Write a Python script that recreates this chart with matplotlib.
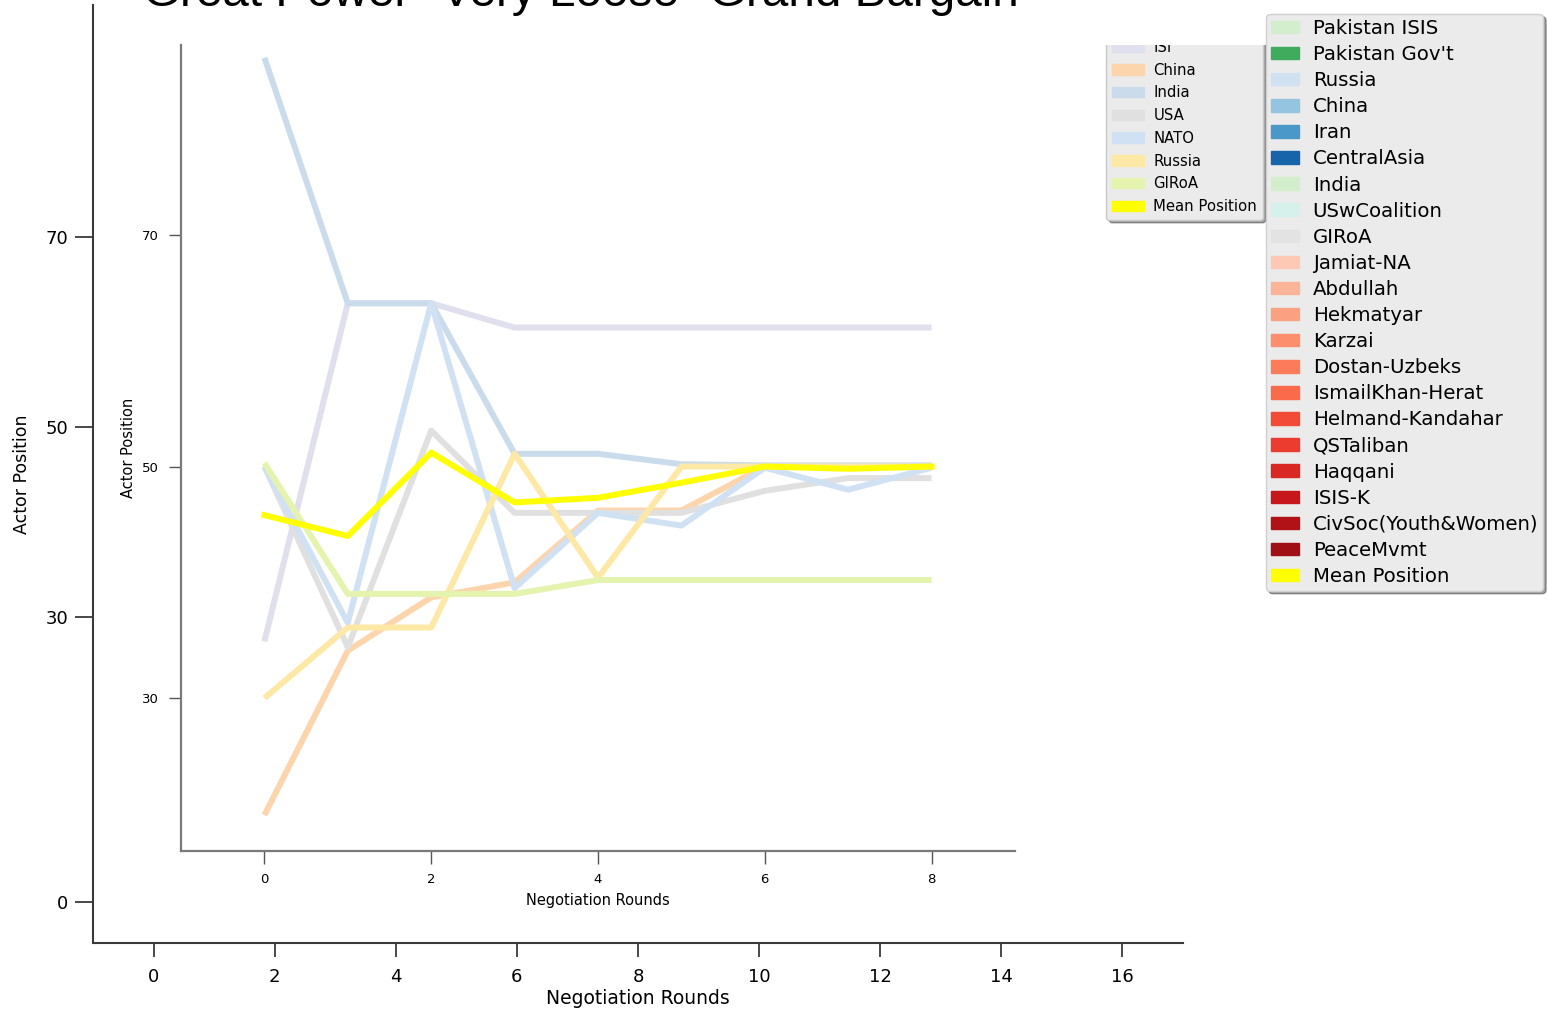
import matplotlib.pyplot as plt
from matplotlib.patches import Patch
from matplotlib.transforms import Bbox, TransformedBbox

# negotiation model output: actor positions per round
rounds = [0, 1, 2, 3, 4, 5, 6, 7, 8]
isi = [34.9, 64.1, 64.1, 62.0, 62.0, 62.0, 62.0, 62.0, 62.0]
china = [19.9, 34.1, 38.7, 40.0, 46.2, 46.2, 50.0, 50.0, 50.0]
india = [85.3, 64.1, 64.1, 51.1, 51.1, 50.2, 50.1, 50.1, 50.1]
usa = [50.0, 34.4, 53.1, 46.0, 46.0, 46.0, 47.9, 49.0, 49.0]
nato = [50.0, 36.5, 64.1, 39.5, 46.0, 44.9, 49.9, 48.0, 49.9]
russia = [30.0, 36.1, 36.1, 51.1, 40.4, 50.0, 50.0, 50.0, 50.0]
giroa = [50.3, 39.0, 39.0, 39.0, 40.2, 40.2, 40.2, 40.2, 40.2]
mean_pos = [45.8, 44.0, 51.2, 46.9, 47.3, 48.6, 50.0, 49.8, 50.0]

series_names = ["ISI", "China", "India", "USA", "NATO", "Russia", "GIRoA"]
series_vals = [isi, china, india, usa, nato, russia, giroa]
series_colors = ["#e0dfee", "#fdd5ad", "#cadcec", "#e0e0e0", "#cfe1f2", "#fde8a5", "#e4f4ae"]

# full actor list for the side legend
actor_names = ["Pakistan ISIS", "Pakistan Gov't", "Russia", "China", "Iran", "CentralAsia",
               "India", "USwCoalition", "GIRoA", "Jamiat-NA", "Abdullah", "Hekmatyar",
               "Karzai", "Dostan-Uzbeks", "IsmailKhan-Herat", "Helmand-Kandahar",
               "QSTaliban", "Haqqani", "ISIS-K", "CivSoc(Youth&Women)", "PeaceMvmt",
               "Mean Position"]
actor_colors = ["#d3eecd", "#41ab5d", "#d0e1f2", "#94c4df", "#4a98c9", "#1764ab",
                "#d3eecd", "#d6f0ec", "#e3e3e3", "#fdc9b4", "#fcb499", "#fca082",
                "#fc8d6d", "#fb7b5b", "#fb6a4a", "#f24c38", "#ec3c30", "#d92723",
                "#c8171c", "#b11218", "#a00f15", "#ffff00"]

outer_xticks = [0, 2, 4, 6, 8, 10, 12, 14, 16]
outer_yticks = [0, 30, 50, 70]
inner_xticks = [0, 2, 4, 6, 8]
inner_yticks = [30, 50, 70]

W, H = 1547, 1011
fig = plt.figure(figsize=(W / 100, H / 100), dpi=100)


def rect(x0, y0, x1, y1):
    return [x0 / W, 1 - y1 / H, (x1 - x0) / W, (y1 - y0) / H]


fig.text(581 / W, 1 - 6 / H, 'Great Power "Very Loose" Grand Bargain',
         ha="center", va="baseline", fontsize=34.3, family="Liberation Sans")

# outer frame
outer = fig.add_axes(rect(93, 5, 1183, 943))
outer.set_xlim(-1, 17)
outer.set_ylim(-4.3, 94.4)
outer.set_xticks(outer_xticks)
outer.set_yticks(outer_yticks)
for s in ["top", "right"]:
    outer.spines[s].set_visible(False)
for s in ["left", "bottom"]:
    outer.spines[s].set_color("#3a3a3a")
    outer.spines[s].set_linewidth(1.5)
outer.tick_params(axis="y", length=13, width=1.3, color="#3a3a3a", labelsize=13, pad=5)
outer.tick_params(axis="x", length=10, width=1.3, color="#3a3a3a", labelsize=13, pad=8)
outer.set_xlabel("Negotiation Rounds", fontsize=13.5, labelpad=2)
outer.set_ylabel("Actor Position", fontsize=12.5, labelpad=10)
outer.patch.set_alpha(0)

# inner chart
ax = fig.add_axes(rect(181, 45, 1015, 851))
for name, vals, col in zip(series_names, series_vals, series_colors):
    ax.plot(rounds, vals, color=col, lw=4.3, solid_capstyle="butt")
ax.plot(rounds, mean_pos, color="#ffff00", lw=4.3)
ax.set_xlim(-1, 9)
ax.set_ylim(16.8, 86.4)
ax.set_xticks(inner_xticks)
ax.set_yticks(inner_yticks)
for s in ["top", "right"]:
    ax.spines[s].set_visible(False)
for s in ["left", "bottom"]:
    ax.spines[s].set_color("#7a7a7a")
    ax.spines[s].set_linewidth(1.6)
ax.tick_params(length=9, width=1, color="#555555", labelsize=9.5, pad=7)
ax.set_xlabel("Negotiation Rounds", fontsize=10.5, labelpad=5)
ax.set_ylabel("Actor Position", fontsize=10.5, labelpad=4)

inner_handles = [Patch(color=c, label=n) for n, c in zip(series_names, series_colors)]
inner_handles.append(Patch(color="#ffff00", label="Mean Position"))
leg = ax.legend(handles=inner_handles, loc="lower right",
                bbox_to_anchor=(1263 / W, 1 - 220 / H), bbox_transform=fig.transFigure,
                borderaxespad=0, fontsize=10.7, labelspacing=0.52, handlelength=2.1,
                handleheight=0.7, handletextpad=0.65, frameon=True, shadow=True,
                facecolor="#ebebeb", edgecolor="#c8c8c8", framealpha=1)
# the legend is cut off where the chart area ends at the top
clip = TransformedBbox(Bbox.from_extents(1000 / W, 0, 1290 / W, 1 - 45 / H), fig.transFigure)
for art in leg.findobj():
    art.set_clip_on(True)
    art.set_clip_box(clip)

side_handles = [Patch(color=c, label=n) for n, c in zip(actor_names, actor_colors)]
fig.legend(handles=side_handles, loc="upper left", bbox_to_anchor=(1266 / W, 1 - 14 / H),
           borderaxespad=0, borderpad=0.25, fontsize=14.2, labelspacing=0.36,
           handlelength=1.42, handleheight=0.6, handletextpad=0.7, frameon=True,
           shadow=True, facecolor="#ebebeb", edgecolor="#d0d0d0", framealpha=1)

fig.savefig("out.png", dpi=100)
